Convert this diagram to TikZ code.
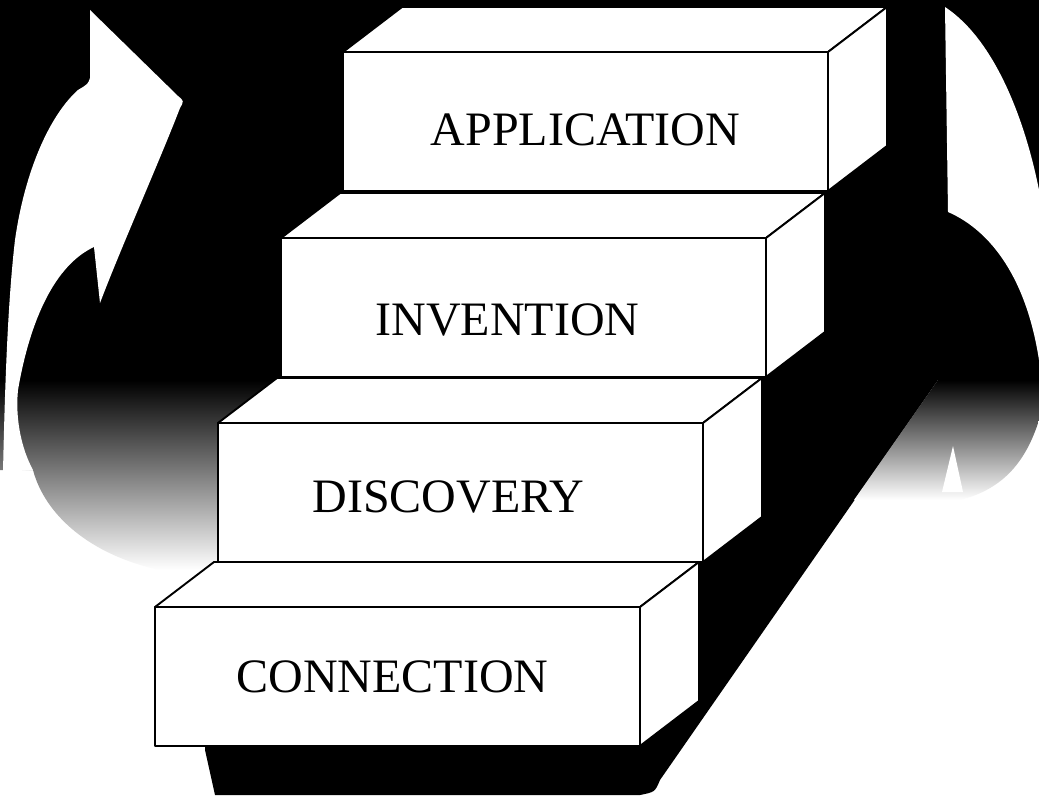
\documentclass[tikz,border=0pt]{standalone}
\usepackage{fontspec}
\setmainfont{Liberation Serif}
\usepackage{tikz}

\begin{document}
\begin{tikzpicture}[x=1pt, y=-1pt, line join=round,
		stufe/.style={rectangle, draw, line width=1.9pt, fill=white, minimum width=485pt, minimum height=139pt, inner sep=0pt, outer sep=0pt, anchor=north west},
		flaeche/.style={draw, line width=1.9pt, fill=white},
		schrift/.style={font=\fontsize{48}{52}\selectfont, inner sep=0pt}]
			% Bildbereich
			\useasboundingbox (0,0) rectangle (1039,805);
			\fill[white] (0,0) rectangle (1039,805);
			% Hintergrund zeichnen
			\fill[black] (0,0) -- (1039,0) -- (1039,380) -- (938,380) -- (660,780) .. controls (655,792) .. (640,795) -- (215,795) -- (205,750) -- (212,565) -- (217,380) -- (0,380) -- cycle;
			% Verlauf links und rechts
			\shade[top color=black, middle color=black!60, bottom color=white] (0,380) -- (275,380) -- (218,423) -- (218,570) -- (160,570) .. controls (90,555) and (45,515) .. (33,470) -- (0,470) -- cycle;
			\shade[top color=black, middle color=black!55, bottom color=white] (938,380) -- (1039,380) -- (1039,420) .. controls (1025,465) and (1000,490) .. (960,500) -- (854,500) -- cycle;
			% Pfeil links
			\fill[white] (90,10) -- (178,96) .. controls (184,101) .. (180,108) .. controls (160,160) and (120,250) .. (100,303) -- (94,247) .. controls (55,265) and (30,320) .. (18,390) .. controls (15,420) and (22,450) .. (33,470) -- (3,472) .. controls (5,380) and (8,300) .. (15,240) .. controls (25,170) and (50,115) .. (78,90) .. controls (88,84) .. (90,78) -- cycle;
			% Pfeil rechts
			\fill[white] (945,7) -- (948,212) .. controls (985,228) and (1025,270) .. (1039,360) -- (1039,190) .. controls (1025,120) and (995,40) .. (945,7) -- cycle;
			\fill[white] (942,492) -- (953,446) -- (963,492) -- cycle;
			% Stufen
			\foreach \nm/\lx/\ty/\dx/\dy/\txt in {con/155/607/-5/0/CONNECTION, dis/218/423/-12/4/DISCOVERY, inv/281/238/-16/12/INVENTION, app/343/52/0/8/APPLICATION}{
				\node[stufe] (\nm) at (\lx,\ty) {};
				\draw[flaeche] (\nm.north west) -- ++(59,-45) -- ++(485,0) -- (\nm.north east) -- cycle;
				\draw[flaeche] (\nm.north east) -- ++(59,-45) -- ++(0,139) -- (\nm.south east) -- cycle;
				\node[schrift] (\nm-text) at ([shift={(\dx,\dy)}]\nm.center) {\txt};
			}
		\end{tikzpicture}
\end{document}
